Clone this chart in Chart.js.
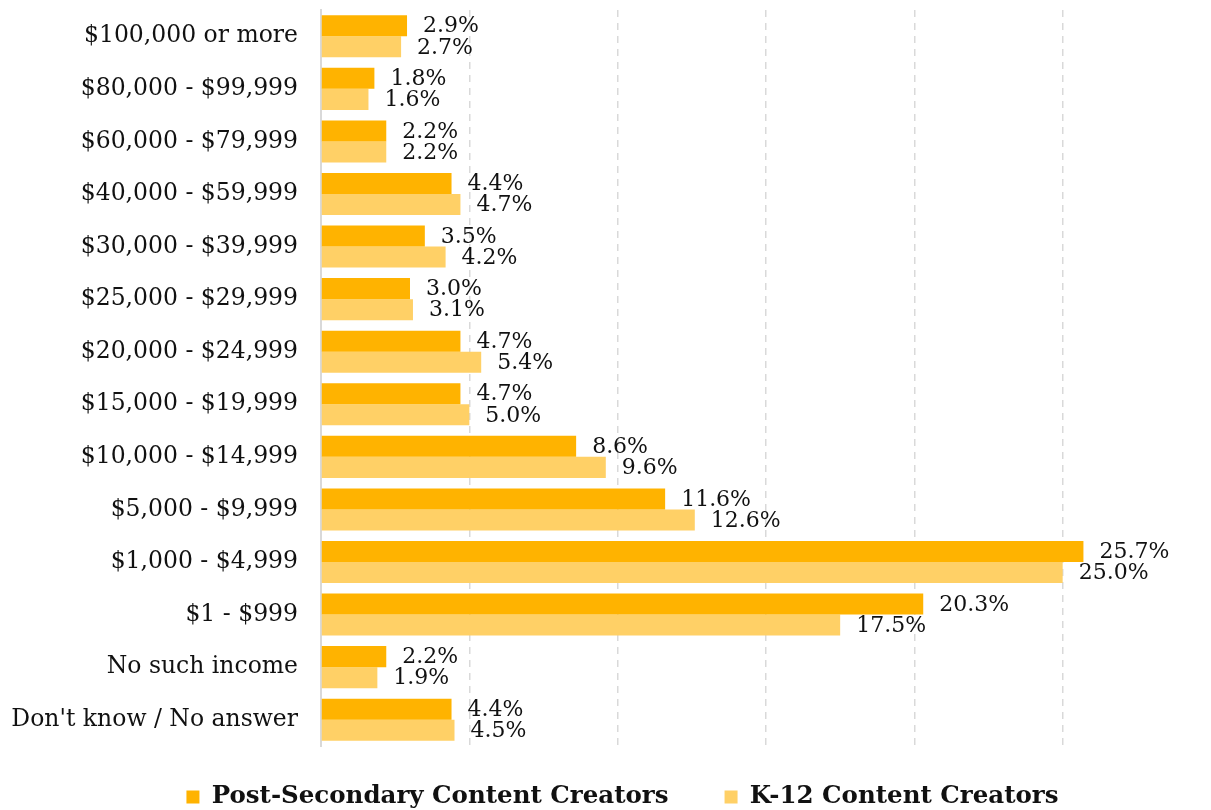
<!DOCTYPE html>
<html>
<head>
<meta charset="utf-8">
<script src="https://cdn.jsdelivr.net/npm/chart.js@4/dist/chart.umd.min.js"></script>
<style>
  html, body { margin: 0; padding: 0; background: #fff; }
  #wrap { width: 1211px; height: 810px; position: relative; }
</style>
</head>
<body>
<div id="wrap"><canvas id="c"></canvas></div>
<script>
const categories = [
  "$100,000 or more",
  "$80,000 - $99,999",
  "$60,000 - $79,999",
  "$40,000 - $59,999",
  "$30,000 - $39,999",
  "$25,000 - $29,999",
  "$20,000 - $24,999",
  "$15,000 - $19,999",
  "$10,000 - $14,999",
  "$5,000 - $9,999",
  "$1,000 - $4,999",
  "$1 - $999",
  "No such income",
  "Don't know / No answer"
];
const postSecondary = [2.9, 1.8, 2.2, 4.4, 3.5, 3.0, 4.7, 4.7, 8.6, 11.6, 25.7, 20.3, 2.2, 4.4];
const k12 = [2.7, 1.6, 2.2, 4.7, 4.2, 3.1, 5.4, 5.0, 9.6, 12.6, 25.0, 17.5, 1.9, 4.5];
const seriesNames = ["Post-Secondary Content Creators", "K-12 Content Creators"];

const FONT = "'DejaVu Serif', Georgia, serif";
const LEGEND_FONT = 24.5;
const LEGEND_PAD = 56;
const X_MAX = 30;

const valueLabels = {
  id: 'valueLabels',
  afterDatasetsDraw(chart) {
    const ctx = chart.ctx;
    ctx.save();
    ctx.font = "22px " + FONT;
    ctx.fillStyle = "#111";
    ctx.textAlign = "left";
    ctx.textBaseline = "middle";
    chart.data.datasets.forEach((ds, i) => {
      const meta = chart.getDatasetMeta(i);
      meta.data.forEach((bar, j) => {
        ctx.fillText(ds.data[j].toFixed(1) + "%", bar.x + 16, bar.y + 1);
      });
    });
    ctx.restore();
  }
};

// place the legend row a fixed distance under the plot area, slightly right of centre
const legendPlacement = {
  id: 'legendPlacement',
  afterLayout(chart) {
    const lg = chart.legend;
    if (!lg) return;
    const center = chart.chartArea.bottom + 51;
    lg.top = center - LEGEND_PAD - LEGEND_FONT / 2;
    lg.bottom = chart.height;
    lg.height = lg.bottom - lg.top;
    lg.left += 17;
    lg.right += 17;
  }
};

new Chart(document.getElementById('c'), {
  type: 'bar',
  data: {
    labels: categories,
    datasets: [
      { label: seriesNames[0], data: postSecondary, backgroundColor: '#FFB300', categoryPercentage: 0.8, barPercentage: 1.0 },
      { label: seriesNames[1], data: k12, backgroundColor: '#FFD066', categoryPercentage: 0.8, barPercentage: 1.0 }
    ]
  },
  options: {
    indexAxis: 'y',
    responsive: true,
    maintainAspectRatio: false,
    animation: false,
    layout: { padding: { top: 10, right: 0, left: 0, bottom: 0 } },
    scales: {
      x: {
        min: 0, max: X_MAX,
        ticks: { display: false, stepSize: 5 },
        border: { display: false, dash: [7, 6] },
        grid: {
          color: (c) => (c.tick && (c.tick.value === 0 || c.tick.value === X_MAX)) ? 'rgba(0,0,0,0)' : '#d9d9d9',
          lineWidth: 1.5,
          drawTicks: false
        },
        afterFit(scale) { scale.height = 0; scale.paddingLeft = 0; scale.paddingRight = 0; }
      },
      y: {
        grid: { display: false, drawTicks: false },
        border: { display: true, color: '#d9d9d9', width: 2 },
        ticks: { color: '#111', font: { family: FONT, size: 23.5 }, padding: 23 },
        afterFit(scale) { scale.width = 321; scale.paddingTop = 0; scale.paddingBottom = 0; }
      }
    },
    plugins: {
      legend: {
        position: 'bottom',
        maxHeight: 64,
        labels: {
          color: '#111',
          font: { family: FONT, size: LEGEND_FONT, weight: 'bold' },
          boxWidth: 13, boxHeight: 13,
          padding: LEGEND_PAD
        }
      },
      tooltip: { enabled: false }
    }
  },
  plugins: [valueLabels, legendPlacement]
});
</script>
</body>
</html>
